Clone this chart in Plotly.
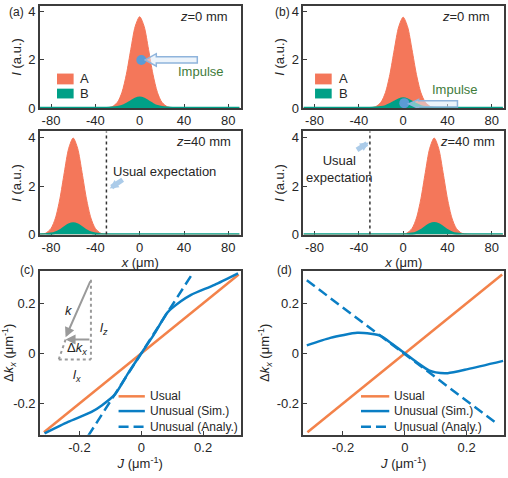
import plotly.graph_objects as go

ORANGE = '#F4775A'
TEAL = '#00A087'
LINE_ORANGE = '#F3824A'
BLUE = '#0A7EC4'
DOT = '#5B9BD5'
FRAME = '#3c3c3c'
FONT = 'Liberation Sans, Arial, sans-serif'

# (a) z=0 mm : beam A and B intensity, centred at x=0
x_a0 = [-90, -30, -25, -20, -16, -12, -8, -4, 0, 4, 8, 12, 16, 20, 25, 30, 90]
A_a0 = [0, 0.01, 0.05, 0.24, 0.65, 1.40, 2.44, 3.40, 3.80, 3.40, 2.44, 1.40, 0.65, 0.24, 0.05, 0.01, 0]
B_a0 = [0, 0, 0.005, 0.026, 0.071, 0.155, 0.27, 0.376, 0.42, 0.376, 0.27, 0.155, 0.071, 0.026, 0.005, 0, 0]
# (a) z=40 mm : moved to x=-60
x_a40 = [-90, -85, -80, -76, -72, -68, -64, -60, -56, -52, -48, -44, -40, -35, -30, 90]
A_a40 = [0.01, 0.05, 0.25, 0.68, 1.47, 2.56, 3.56, 3.98, 3.56, 2.56, 1.47, 0.68, 0.25, 0.05, 0.01, 0]
B_a40 = [0, 0.006, 0.028, 0.077, 0.166, 0.289, 0.403, 0.45, 0.403, 0.289, 0.166, 0.077, 0.028, 0.006, 0, 0]
# (b) z=0 mm
x_b0 = [-90, -30, -25, -20, -16, -12, -8, -4, 0, 4, 8, 12, 16, 20, 25, 30, 90]
A_b0 = [0, 0.01, 0.05, 0.24, 0.64, 1.39, 2.43, 3.38, 3.78, 3.38, 2.43, 1.39, 0.64, 0.24, 0.05, 0.01, 0]
B_b0 = [0, 0, 0.005, 0.025, 0.066, 0.144, 0.25, 0.349, 0.39, 0.349, 0.25, 0.144, 0.066, 0.025, 0.005, 0, 0]
# (b) z=40 mm : moved to x=+28
x_b40 = [-90, -2, 3, 8, 12, 16, 20, 24, 28, 32, 36, 40, 44, 48, 53, 58, 90]
A_b40 = [0, 0.01, 0.05, 0.25, 0.68, 1.47, 2.56, 3.56, 3.98, 3.56, 2.56, 1.47, 0.68, 0.25, 0.05, 0.01, 0]
B_b40 = [0, 0, 0.006, 0.03, 0.08, 0.173, 0.302, 0.421, 0.47, 0.421, 0.302, 0.173, 0.08, 0.03, 0.006, 0, 0]

# impulse points and usual-expectation position
impulse_a = ([1.5], [2.0])
impulse_b = ([1.0], [0.2])
usual_pos = -30

# (c) and (d): delta k_x versus J
J_usual = [-0.315, 0.315]
dk_usual = [-0.315, 0.315]
J_c_sim = [-0.313, -0.237, -0.161, -0.128, -0.085, -0.041, 0, 0.041, 0.085, 0.128, 0.161, 0.237, 0.313]
dk_c_sim = [-0.320, -0.274, -0.234, -0.208, -0.164, -0.076, 0, 0.076, 0.164, 0.208, 0.234, 0.274, 0.320]
J_c_ana = [-0.172, 0.165]
dk_c_ana = [-0.33, 0.318]
J_d_sim = [-0.317, -0.241, -0.154, -0.11, -0.078, -0.04, 0, 0.04, 0.078, 0.1, 0.139, 0.204, 0.318]
dk_d_sim = [0.032, 0.062, 0.082, 0.078, 0.07, 0.037, 0, -0.037, -0.068, -0.076, -0.079, -0.063, -0.030]
J_d_ana = [-0.317, 0.291]
dk_d_ana = [0.292, -0.274]

xt_top = [-80, -40, 0, 40, 80]
xt_top_txt = ['-80', '-40', '0', '40', '80']
yt_top = [0, 2, 4]
t_bot = [-0.2, 0, 0.2]
t_bot_txt = ['-0.2', '0', '0.2']

fig = go.Figure()


def xn(n):
    return 'x' if n == 1 else 'x%d' % n


def yn(n):
    return 'y' if n == 1 else 'y%d' % n


def beams(x, a, b, n):
    fig.add_trace(go.Scatter(x=x, y=a, mode='lines', fill='tozeroy', fillcolor=ORANGE,
                             line=dict(color=ORANGE, width=1, shape='spline', smoothing=0.8),
                             xaxis=xn(n), yaxis=yn(n)))
    fig.add_trace(go.Scatter(x=x, y=b, mode='lines', fill='tozeroy', fillcolor=TEAL,
                             line=dict(color=TEAL, width=2.5, shape='spline', smoothing=0.8),
                             xaxis=xn(n), yaxis=yn(n)))


beams(x_a0, A_a0, B_a0, 1)
beams(x_a40, A_a40, B_a40, 2)
beams(x_b0, A_b0, B_b0, 3)
beams(x_b40, A_b40, B_b40, 4)

for n in (2, 4):
    fig.add_trace(go.Scatter(x=[usual_pos, usual_pos], y=[0, 4.3], mode='lines',
                             line=dict(color='#333333', width=1.5, dash='dot'),
                             xaxis=xn(n), yaxis=yn(n)))

for n, (px, py) in ((1, impulse_a), (3, impulse_b)):
    fig.add_trace(go.Scatter(x=px, y=py, mode='markers', marker=dict(color=DOT, size=10),
                             xaxis=xn(n), yaxis=yn(n)))

for n, js, ds, ja, da in ((5, J_c_sim, dk_c_sim, J_c_ana, dk_c_ana),
                          (6, J_d_sim, dk_d_sim, J_d_ana, dk_d_ana)):
    fig.add_trace(go.Scatter(x=J_usual, y=dk_usual, mode='lines',
                             line=dict(color=LINE_ORANGE, width=2.5), xaxis=xn(n), yaxis=yn(n)))
    fig.add_trace(go.Scatter(x=ja, y=da, mode='lines',
                             line=dict(color=BLUE, width=2.5, dash='10px,5px'), xaxis=xn(n), yaxis=yn(n)))
    fig.add_trace(go.Scatter(x=js, y=ds, mode='lines',
                             line=dict(color=BLUE, width=2.5, shape='spline', smoothing=0.6),
                             xaxis=xn(n), yaxis=yn(n)))

fig.update_traces(showlegend=False, hoverinfo='skip')

W, H = 508, 478
xdom_l = [39 / W, 240 / W]
xdom_r = [303 / W, 504 / W]
ydom = {1: [1 - 109 / H, 1 - 5 / H], 2: [1 - 238 / H, 1 - 133 / H], 3: [1 - 442 / H, 1 - 275 / H]}

axis = dict(showline=True, mirror=True, linecolor=FRAME, linewidth=1.5, ticks='inside', ticklen=4,
            tickwidth=1.2, tickcolor=FRAME, showgrid=False, zeroline=False,
            tickfont=dict(family=FONT, size=13, color='#262626'))
tfont = dict(family=FONT, size=13, color='#262626')

layout = {}
specs = {1: (xdom_l, 1), 2: (xdom_l, 2), 3: (xdom_r, 1), 4: (xdom_r, 2), 5: (xdom_l, 3), 6: (xdom_r, 3)}
for n, (xd, row) in specs.items():
    xa = dict(axis, domain=xd, anchor=yn(n))
    ya = dict(axis, domain=ydom[row], anchor=xn(n))
    if row < 3:
        xa.update(range=[-90, 91], tickvals=xt_top, ticktext=xt_top_txt, layer='below traces')
        ya.update(range=[0, 4.25], tickvals=yt_top, ticktext=[str(v) for v in yt_top],
                  title=dict(text='<i>I</i> (a.u.)', font=tfont, standoff=4))
        if row == 2:
            xa['title'] = dict(text='<i>x</i> (μm)', font=tfont, standoff=4)
    else:
        xa.update(range=[-0.328, 0.321], tickvals=t_bot, ticktext=t_bot_txt,
                  title=dict(text='<i>J</i> (μm<sup>-1</sup>)', font=tfont, standoff=4))
        ya.update(range=[-0.325, 0.33], tickvals=t_bot, ticktext=t_bot_txt,
                  title=dict(text='Δ<i>k</i><sub><i>x</i></sub> (μm<sup>-1</sup>)', font=tfont, standoff=4))
    layout['xaxis' if n == 1 else 'xaxis%d' % n] = xa
    layout['yaxis' if n == 1 else 'yaxis%d' % n] = ya

ann = []
shapes = []


def text(t, x, y, xref, yref, size=13, color='#262626', xanchor='center', yanchor='middle'):
    ann.append(dict(text=t, x=x, y=y, xref=xref, yref=yref, showarrow=False, xanchor=xanchor,
                    yanchor=yanchor, font=dict(family=FONT, size=size, color=color)))


# panel labels
for lab, px, py in (('(a)', 6, 2), ('(b)', 273, 2), ('(c)', 17, 265), ('(d)', 275, 265)):
    text(lab, px / W, 1 - py / H, 'paper', 'paper', size=12, xanchor='left', yanchor='top')

# z labels
for n, t, xr in ((1, '<i>z</i>=0 mm', 0.95), (2, '<i>z</i>=40 mm', 0.96),
                 (3, '<i>z</i>=0 mm', 0.94), (4, '<i>z</i>=40 mm', 0.965)):
    text(t, xr, 0.9, xn(n) + ' domain', yn(n) + ' domain', xanchor='right')

# impulse texts
text('Impulse', 55, 1.5, xn(1), yn(1), color='#3E7B3A')
text('Impulse', 47, 0.77, xn(3), yn(3), color='#3E7B3A')
text('Usual expectation', 22.7, 2.62, xn(2), yn(2))
text('Usual<br>expectation', -57, 2.72, xn(4), yn(4))

# small arrows towards the usual position
for n, tip, tail in ((2, (-27, 1.9), (-14, 2.3)), (4, (-31, 3.8), (-43, 3.45))):
    ann.append(dict(x=tip[0], y=tip[1], ax=tail[0], ay=tail[1], xref=xn(n), yref=yn(n),
                    axref=xn(n), ayref=yn(n), showarrow=True, text='',
                    arrowcolor='rgba(157,195,230,0.85)', arrowwidth=5, arrowhead=2, arrowsize=0.35))

# block arrows pointing to the impulse
block_a = [(5, 2), (15, 2.26), (15, 2.13), (52, 2.13), (52, 1.87), (15, 1.87), (15, 1.74)]
block_b = [(5, 0.17), (14, 0.36), (14, 0.30), (49, 0.30), (49, 0.04), (14, 0.04), (14, -0.02)]
for n, pts in ((1, block_a), (3, block_b)):
    path = 'M ' + ' L '.join('%g,%g' % p for p in pts) + ' Z'
    shapes.append(dict(type='path', path=path, xref=xn(n), yref=yn(n),
                       fillcolor='rgba(222,235,247,0.55)', line=dict(color='rgba(143,180,220,1)', width=1.5)))

# A/B legends
for n, x0, x1, xt in ((1, 0.085, 0.168, 0.19), (3, 0.058, 0.141, 0.166)):
    for lab, col, y0, y1 in (('A', ORANGE, 0.231, 0.337), ('B', TEAL, 0.093, 0.189)):
        shapes.append(dict(type='rect', xref=xn(n) + ' domain', yref=yn(n) + ' domain',
                           x0=x0, x1=x1, y0=y0, y1=y1, fillcolor=col, line=dict(width=0)))
        text(lab, xt, (y0 + y1) / 2, xn(n) + ' domain', yn(n) + ' domain', xanchor='left')

# line legends in (c) and (d)
for n, x0, x1, xt in ((5, 0.392, 0.523, 0.538), (6, 0.287, 0.428, 0.44)):
    for lab, col, dash, yy in (('Usual', LINE_ORANGE, 'solid', 0.234),
                               ('Unusual (Sim.)', BLUE, 'solid', 0.144),
                               ('Unusual (Analy.)', BLUE, '10px,5px', 0.048)):
        shapes.append(dict(type='line', xref=xn(n) + ' domain', yref=yn(n) + ' domain',
                           x0=x0, x1=x1, y0=yy, y1=yy, line=dict(color=col, width=2.5, dash=dash)))
        text(lab, xt, yy, xn(n) + ' domain', yn(n) + ' domain', size=12, xanchor='left')

# inset sketch in (c)
GRAY = '#9a9a9a'
k_tail, k_tip = (-0.163, 0.294), (-0.245, 0.064)
dk_tail, dk_tip = (-0.163, 0.055), (-0.245, 0.055)
for tip, tail in ((k_tip, k_tail), (dk_tip, dk_tail)):
    ann.append(dict(x=tip[0], y=tip[1], ax=tail[0], ay=tail[1], xref='x5', yref='y5', axref='x5',
                    ayref='y5', showarrow=True, text='', arrowcolor=GRAY, arrowwidth=2,
                    arrowhead=2, arrowsize=1))
for (x0, y0, x1, y1) in ((-0.163, 0.294, -0.163, -0.024), (-0.267, -0.024, -0.163, -0.024),
                         (-0.245, 0.055, -0.267, -0.024)):
    shapes.append(dict(type='line', xref='x5', yref='y5', x0=x0, y0=y0, x1=x1, y1=y1,
                       line=dict(color=GRAY, width=2, dash='dot')))
text('<i>k</i>', -0.235, 0.17, 'x5', 'y5')
text('<i>l</i><sub><i>z</i></sub>', -0.122, 0.10, 'x5', 'y5')
text('Δ<i>k</i><sub><i>x</i></sub>', -0.207, 0.018, 'x5', 'y5')
text('<i>l</i><sub><i>x</i></sub>', -0.209, -0.09, 'x5', 'y5')

fig.update_layout(width=W, height=H, margin=dict(l=0, r=0, t=0, b=0),
                  paper_bgcolor='white', plot_bgcolor='white',
                  font=dict(family=FONT, size=13, color='#262626'),
                  annotations=ann, shapes=shapes, showlegend=False, **layout)

# page body has a default margin; drop it so the 508x478 figure fills the window
fig.write_html("out.html", config={'displayModeBar': False},
               post_script="document.body.style.margin='0px';document.body.style.overflow='hidden';")
